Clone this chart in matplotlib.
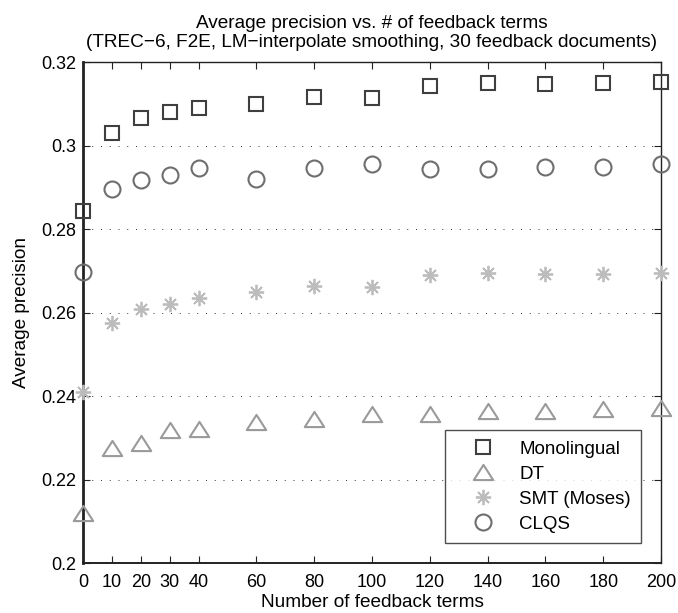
import matplotlib
matplotlib.use("Agg")
import matplotlib.pyplot as plt
from matplotlib.path import Path

plt.rcParams['font.family'] = ['Liberation Sans', 'DejaVu Sans']

terms = [0, 10, 20, 30, 40, 60, 80, 100, 120, 140, 160, 180, 200]

monolingual = [0.2844, 0.3031, 0.3065, 0.3081, 0.3090, 0.3100, 0.3116,
               0.3114, 0.3143, 0.3150, 0.3147, 0.3149, 0.3152]
dt = [0.2119, 0.2276, 0.2287, 0.2318, 0.2320, 0.2337, 0.2345,
      0.2356, 0.2358, 0.2364, 0.2364, 0.2369, 0.2371]
smt = [0.2410, 0.2574, 0.2608, 0.2620, 0.2634, 0.2648, 0.2664,
       0.2662, 0.2690, 0.2694, 0.2692, 0.2692, 0.2694]
clqs = [0.2698, 0.2897, 0.2917, 0.2929, 0.2947, 0.2919, 0.2947,
        0.2955, 0.2944, 0.2943, 0.2948, 0.2949, 0.2955]

labels = ['Monolingual', 'DT', 'SMT (Moses)', 'CLQS']
y_ticks = [0.2, 0.22, 0.24, 0.26, 0.28, 0.3, 0.32]
y_tick_labels = ['0.2', '0.22', '0.24', '0.26', '0.28', '0.3', '0.32']

# wide, flat open triangle
tri = Path([(0, 0.78), (-1, -0.78), (1, -0.78), (0, 0.78)],
           [Path.MOVETO, Path.LINETO, Path.LINETO, Path.CLOSEPOLY])

fig = plt.figure(figsize=(6.78, 6.13), dpi=100)
ax = fig.add_axes([83 / 678, 1 - 563 / 613, (661 - 83) / 678, (563 - 62) / 613])

common = dict(linestyle='none', markerfacecolor='none', clip_on=False, zorder=3)
ax.plot(terms, monolingual, marker='s', markersize=9.5,
        markeredgecolor='#3f3f3f', markeredgewidth=1.5, label=labels[0], **common)
ax.plot(terms, dt, marker=tri, markersize=14,
        markeredgecolor='#9a9a9a', markeredgewidth=1.5, label=labels[1], **common)
ax.plot(terms, smt, marker=(8, 2, 0), markersize=11,
        markeredgecolor='#bcbcbc', markeredgewidth=1.3, label=labels[2], **common)
ax.plot(terms, clqs, marker='o', markersize=11.5,
        markeredgecolor='#6e6e6e', markeredgewidth=1.5, label=labels[3], **common)

ax.set_xlim(0, 200)
ax.set_ylim(0.2, 0.32)
ax.set_xticks(terms)
ax.set_yticks(y_ticks)
ax.set_yticklabels(y_tick_labels)
ax.yaxis.grid(True, linestyle=(0, (1, 8)), color='#333333', linewidth=0.7)
ax.set_axisbelow(True)

ax.tick_params(direction='in', top=True, right=True, labelsize=13,
               length=5, width=0.8, colors='#222222', labelcolor='black')
ax.tick_params(axis='x', pad=8)
ax.tick_params(axis='y', pad=5)
for side in ['top', 'right', 'bottom']:
    ax.spines[side].set_linewidth(1.0)
    ax.spines[side].set_color('#222222')
ax.spines['bottom'].set_linewidth(1.4)
ax.spines['left'].set_linewidth(2.0)
ax.spines['left'].set_color('#222222')

ax.set_xlabel('Number of feedback terms', fontsize=13.7, labelpad=2)
ax.set_ylabel('Average precision', fontsize=13.7, labelpad=8)
ax.set_title('Average precision vs. # of feedback terms\n'
             '(TREC\u22126, F2E, LM\u2212interpolate smoothing, 30 feedback documents)',
             fontsize=13.7, pad=10.5, linespacing=1.15)

leg = ax.legend(loc='lower right', fontsize=13.5, frameon=True, fancybox=False,
                edgecolor='#222222', borderpad=0.55, handlelength=3.0,
                handletextpad=0.4, labelspacing=0.42, borderaxespad=0,
                bbox_to_anchor=((641 - 83) / 578, (563 - 543) / 501))
leg.get_frame().set_linewidth(1.0)

fig.savefig('out.png', dpi=100)
